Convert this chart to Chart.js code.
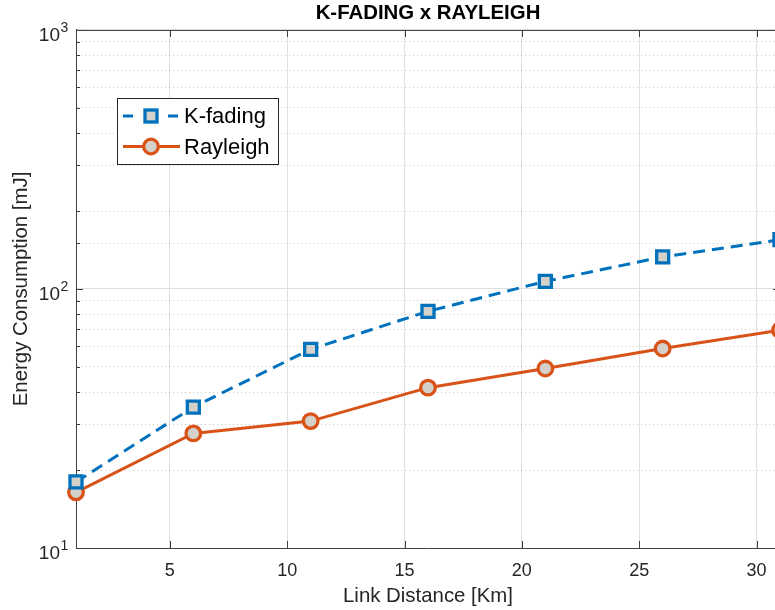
<!DOCTYPE html>
<html>
<head>
<meta charset="utf-8">
<script src="https://cdn.jsdelivr.net/npm/chart.js@4"></script>
<style>
  html, body { margin: 0; padding: 0; overflow: hidden; background: #fff; }
  #wrap { width: 780px; height: 610px; }
</style>
</head>
<body>
<div id="wrap"><canvas id="myChart" width="780" height="610"></canvas></div>
<script>
const distances = [1, 6, 11, 16, 21, 26, 31];
const kFading = [18.0, 35.0, 58.5, 82.0, 107, 133, 155];
const rayleigh = [16.4, 27.7, 30.9, 41.6, 49.3, 58.9, 69.3];
const xTicks = [5, 10, 15, 20, 25, 30];
const yDecades = [10, 100, 1000];
const yExponents = ['1', '2', '3'];

const BLUE = '#0072BD';
const ORANGE = '#D95319';
const MARKER_FILL = '#d4d1ca';
const AXIS = '#404040';
const FONT = '"Liberation Sans", Arial, Helvetica, sans-serif';

Chart.defaults.font.family = FONT;
Chart.defaults.color = '#262626';

const isMajor = v => Math.abs(Math.log10(v) - Math.round(Math.log10(v))) < 1e-9;

// box, inward ticks, 10^n labels and the legend (matlab look)
const matlabFrame = {
    id: 'matlabFrame',
    beforeDatasetsDraw(chart) {
        const {ctx, chartArea: a, scales} = chart;
        ctx.save();
        ctx.strokeStyle = AXIS;
        ctx.lineWidth = 1;
        ctx.beginPath();
        ctx.moveTo(a.left, a.top + 0.5);
        ctx.lineTo(a.right, a.top + 0.5);
        ctx.moveTo(a.right - 0.5, a.top);
        ctx.lineTo(a.right - 0.5, a.bottom);
        xTicks.forEach(v => {
            const x = Math.round(scales.x.getPixelForValue(v)) + 0.5;
            ctx.moveTo(x, a.bottom);
            ctx.lineTo(x, a.bottom - 7);
            ctx.moveTo(x, a.top);
            ctx.lineTo(x, a.top + 7);
        });
        scales.y.ticks.forEach(t => {
            const y = Math.round(scales.y.getPixelForValue(t.value)) + 0.5;
            const len = isMajor(t.value) ? 7 : 4;
            ctx.moveTo(a.left, y);
            ctx.lineTo(a.left + len, y);
            ctx.moveTo(a.right, y);
            ctx.lineTo(a.right - len, y);
        });
        ctx.stroke();

        // y tick labels with raised exponent
        ctx.fillStyle = '#262626';
        ctx.textBaseline = 'alphabetic';
        yDecades.forEach((v, i) => {
            const y = scales.y.getPixelForValue(v);
            ctx.font = '19px ' + FONT;
            ctx.textAlign = 'right';
            ctx.fillText('10', 60, y + 11);
            ctx.font = '14px ' + FONT;
            ctx.textAlign = 'left';
            ctx.fillText(yExponents[i], 60.5, y + 2);
        });
        ctx.restore();
    },
    afterDraw(chart) {
        const ctx = chart.ctx;
        const bx = 117, by = 98, bw = 161, bh = 66;
        ctx.save();
        ctx.fillStyle = '#fff';
        ctx.fillRect(bx, by, bw, bh);
        ctx.strokeStyle = '#262626';
        ctx.lineWidth = 1;
        ctx.strokeRect(bx + 0.5, by + 0.5, bw, bh);

        // K-fading
        let y = 116;
        ctx.strokeStyle = BLUE;
        ctx.lineWidth = 3;
        ctx.setLineDash([10, 35]);
        ctx.beginPath();
        ctx.moveTo(123, y);
        ctx.lineTo(180, y);
        ctx.stroke();
        ctx.setLineDash([]);
        ctx.lineWidth = 3.3;
        ctx.fillStyle = MARKER_FILL;
        ctx.fillRect(145, y - 6, 12, 12);
        ctx.strokeRect(145, y - 6, 12, 12);

        // Rayleigh
        y = 146.5;
        ctx.lineWidth = 3;
        ctx.strokeStyle = ORANGE;
        ctx.beginPath();
        ctx.moveTo(123, y);
        ctx.lineTo(180, y);
        ctx.stroke();
        ctx.lineWidth = 3.3;
        ctx.beginPath();
        ctx.arc(151, y, 7.3, 0, Math.PI * 2);
        ctx.fill();
        ctx.stroke();

        ctx.fillStyle = '#000';
        ctx.font = '22px ' + FONT;
        ctx.textBaseline = 'middle';
        ctx.fillText('K-fading', 184, 117);
        ctx.fillText('Rayleigh', 184, 147.5);
        ctx.restore();
    }
};

const data = {
    labels: distances,
    datasets: [{
        label: 'K-fading',
        data: distances.map((d, i) => ({x: d, y: kFading[i]})),
        borderColor: BLUE,
        borderWidth: 3,
        borderDash: [12, 7],
        pointStyle: 'rect',
        pointRadius: 8.5,
        pointBorderWidth: 3.3,
        pointBorderColor: BLUE,
        pointBackgroundColor: MARKER_FILL,
        clip: false
    }, {
        label: 'Rayleigh',
        data: distances.map((d, i) => ({x: d, y: rayleigh[i]})),
        borderColor: ORANGE,
        borderWidth: 3,
        pointStyle: 'circle',
        pointRadius: 7.3,
        pointBorderWidth: 3.3,
        pointBorderColor: ORANGE,
        pointBackgroundColor: MARKER_FILL,
        clip: false
    }]
};

const options = {
    responsive: false,
    animation: false,
    layout: { padding: 0, autoPadding: false },
    scales: {
        x: {
            type: 'linear',
            min: 1,
            max: 31,
            afterBuildTicks: s => { s.ticks = xTicks.map(v => ({value: v})); },
            afterFit: s => { s.height = 62; s.paddingLeft = 0; s.paddingRight = 0; },
            grid: { color: '#dfdfdf', drawTicks: false },
            border: { color: AXIS, width: 1 },
            ticks: { font: { size: 18 }, padding: 12, maxRotation: 0 },
            title: {
                display: true,
                text: 'Link Distance [Km]',
                font: { size: 20.4 },
                padding: { top: 0, bottom: 1 }
            }
        },
        y: {
            type: 'logarithmic',
            min: 10,
            max: 1000,
            afterFit: s => { s.width = 76; s.paddingTop = 0; s.paddingBottom = 0; },
            grid: {
                drawTicks: false,
                color: c => (c.tick && !isMajor(c.tick.value)) ? 'rgba(0,0,0,0.22)' : '#dfdfdf'
            },
            border: {
                color: AXIS,
                width: 1,
                dash: c => (c.tick && !isMajor(c.tick.value)) ? [1, 3] : []
            },
            ticks: {
                autoSkip: false,
                font: { size: 18 },
                callback: () => ''
            },
            title: {
                display: true,
                text: 'Energy Consumption [mJ]',
                font: { size: 20.4 },
                padding: { top: 9, bottom: 0 }
            }
        }
    },
    plugins: {
        legend: { display: false },
        tooltip: { enabled: false },
        title: {
            display: true,
            text: 'K-FADING x RAYLEIGH',
            fullSize: false,
            color: '#000',
            font: { size: 20.4, weight: 'bold' },
            padding: { top: 1.5, bottom: 4 }
        }
    }
};

new Chart(document.getElementById('myChart').getContext('2d'), {
    type: 'line',
    data: data,
    options: options,
    plugins: [matlabFrame]
});
</script>
</body>
</html>
